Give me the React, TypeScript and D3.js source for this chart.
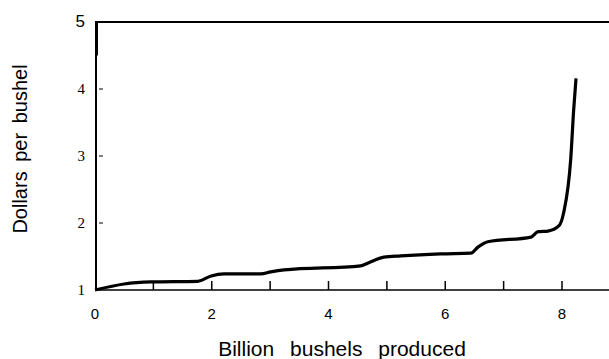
import React, { useRef, useEffect } from 'react';
import * as d3 from 'd3';

// billions of bushels (cumulative) vs. dollars per bushel
const produced = [0.0, 0.5, 0.96, 1.76, 1.99, 2.21, 2.84, 3.01, 3.24, 4.55, 4.67, 4.95, 5.24, 5.92, 6.44, 6.56, 6.73, 7.47, 7.59, 7.76, 7.95, 8.03, 8.15, 8.2, 8.24];
const price = [1.0, 1.09, 1.12, 1.13, 1.21, 1.24, 1.24, 1.27, 1.3, 1.36, 1.4, 1.49, 1.51, 1.54, 1.55, 1.64, 1.72, 1.79, 1.87, 1.88, 1.96, 2.16, 2.96, 3.69, 4.16];

const xTickLabels = [0, 2, 4, 6, 8];
const xTickMarks = [1, 2, 3, 4, 5, 6, 7, 8];
const yTickLabels = [1, 2, 3, 4, 5];
const yTickMarks = [2, 3, 4];

function App() {
    const ref = useRef(null);

    useEffect(() => {
        const svg = d3.select(ref.current);
        svg.selectAll('*').remove();

        const x = d3.scaleLinear().domain([0, 8]).range([95, 562]);
        const y = d3.scaleLinear().domain([1, 5]).range([290, 22]);

        // frame: left axis, top border, baseline
        svg.append('line')
            .attr('x1', 96).attr('x2', 96)
            .attr('y1', y(5)).attr('y2', y(1))
            .attr('stroke', '#000').attr('stroke-width', 2);
        svg.append('line')
            .attr('x1', 96.5).attr('x2', 96.5)
            .attr('y1', y(5)).attr('y2', y(4.5))
            .attr('stroke', '#000').attr('stroke-width', 3);
        svg.append('line')
            .attr('x1', 95).attr('x2', 609)
            .attr('y1', y(5)).attr('y2', y(5))
            .attr('stroke', '#000').attr('stroke-width', 2);
        svg.append('line')
            .attr('x1', 95).attr('x2', 609)
            .attr('y1', y(1)).attr('y2', y(1))
            .attr('stroke', '#000').attr('stroke-width', 1.5);

        svg.selectAll('line.xtick')
            .data(xTickMarks)
            .enter()
            .append('line')
            .attr('class', 'xtick')
            .attr('x1', d => x(d)).attr('x2', d => x(d))
            .attr('y1', y(1)).attr('y2', y(1) - 9)
            .attr('stroke', '#000').attr('stroke-width', 1.5);

        svg.selectAll('line.ytick')
            .data(yTickMarks)
            .enter()
            .append('line')
            .attr('class', 'ytick')
            .attr('x1', 99).attr('x2', 103)
            .attr('y1', d => y(d)).attr('y2', d => y(d))
            .attr('stroke', '#000').attr('stroke-width', 1);

        svg.selectAll('text.xlab')
            .data(xTickLabels)
            .enter()
            .append('text')
            .attr('class', 'xlab')
            .attr('x', d => x(d))
            .attr('y', 319)
            .attr('text-anchor', 'middle')
            .attr('font-family', 'Liberation Sans, Arial, sans-serif')
            .attr('font-size', 15)
            .text(d => d);

        svg.selectAll('text.ylab')
            .data(yTickLabels)
            .enter()
            .append('text')
            .attr('class', 'ylab')
            .attr('x', 85)
            .attr('y', d => y(d) + 5)
            .attr('text-anchor', 'end')
            .attr('font-family', d => d === 5 ? 'Liberation Sans, Arial, sans-serif' : 'Liberation Serif, Times New Roman, serif')
            .attr('font-size', d => d === 5 ? 17 : 15)
            .text(d => d);

        const line = d3.line()
            .x((d, i) => x(produced[i]))
            .y(d => y(d))
            .curve(d3.curveMonotoneX);

        svg.append('path')
            .datum(price)
            .attr('d', line)
            .attr('fill', 'none')
            .attr('stroke', '#000')
            .attr('stroke-width', 3.2)
            .attr('stroke-linejoin', 'round');

        svg.append('text')
            .attr('x', 342)
            .attr('y', 356)
            .attr('text-anchor', 'middle')
            .attr('font-family', 'Liberation Sans, Arial, sans-serif')
            .attr('font-size', 21)
            .attr('word-spacing', 10)
            .text('Billion bushels produced');

        svg.append('text')
            .attr('transform', 'translate(27,149) rotate(-90)')
            .attr('text-anchor', 'middle')
            .attr('font-family', 'Liberation Sans, Arial, sans-serif')
            .attr('font-size', 20)
            .attr('word-spacing', 4)
            .text('Dollars per bushel');
    }, []);

    return (
        <svg ref={ref} width="609" height="359" style={{ position: 'absolute', left: 0, top: 0, background: '#fff' }}></svg>
    );
}

export default App;
